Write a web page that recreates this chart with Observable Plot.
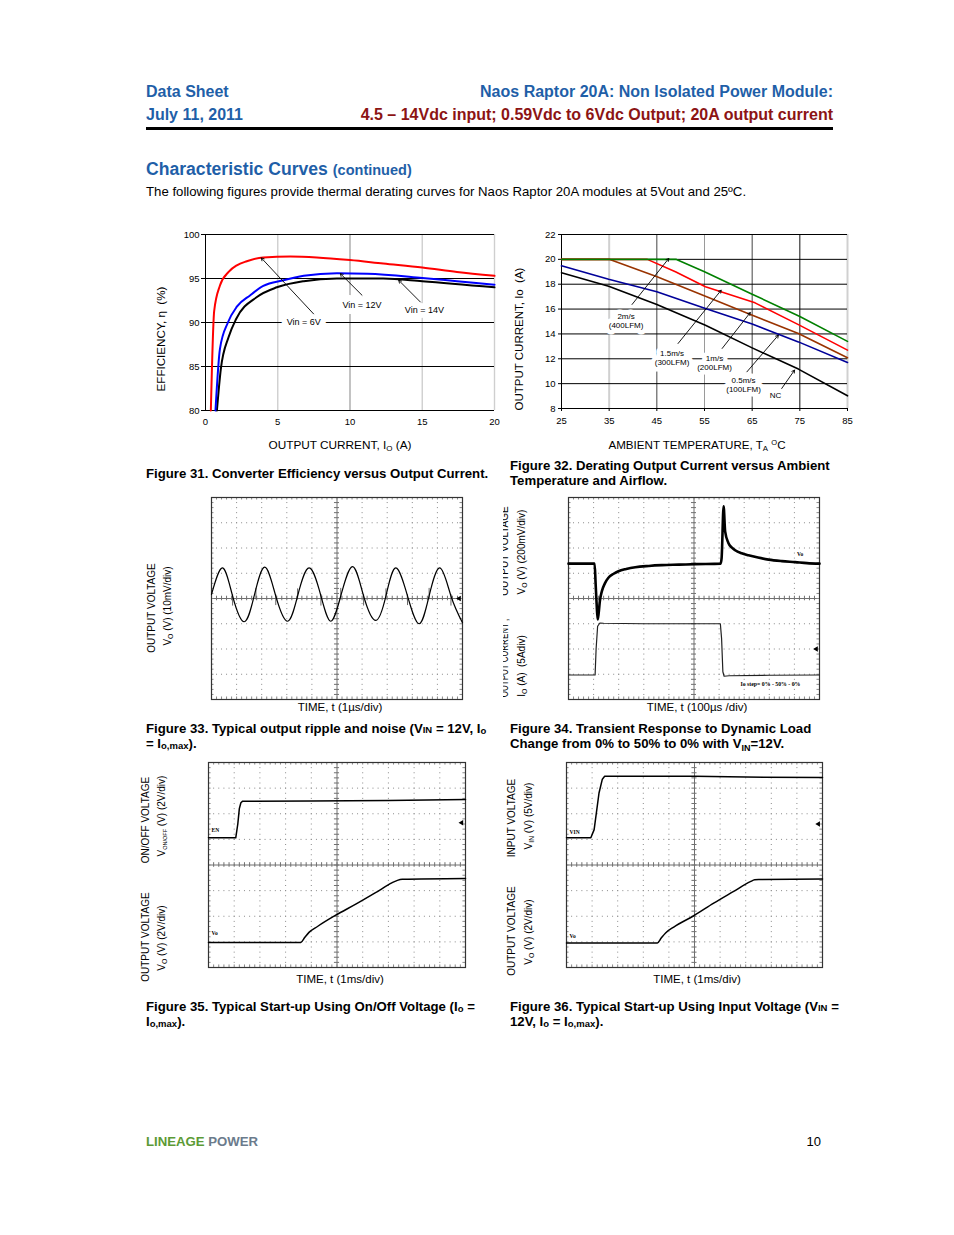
<!DOCTYPE html>
<html><head><meta charset="utf-8">
<script src="https://cdn.jsdelivr.net/npm/d3@7"></script>
<script src="https://cdn.jsdelivr.net/npm/@observablehq/plot@0.6"></script>
<style>
body{margin:0;background:#fff;}
#page{position:relative;width:954px;height:1235px;font-family:"Liberation Sans",Arial,sans-serif;color:#000;overflow:hidden;background:#fff}
.abs{position:absolute;white-space:nowrap;line-height:1.2}
.rot{position:absolute;white-space:nowrap;line-height:1.2;transform:translate(-50%,-50%) rotate(-90deg)}
sub{font-size:0.68em;vertical-align:-0.3em;line-height:0}
sup{font-size:0.65em;vertical-align:0.55em;line-height:0}
.sc{font-size:0.72em}
.sm{font-size:0.72em;vertical-align:-0.1em}
.clip{position:absolute;overflow:hidden}
svg{display:block}
</style></head>
<body><div id="page"></div>
<script>
// ---------- Figure 31 data: efficiency vs output current ----------
const effXTicks = [0, 5, 10, 15, 20];
const effYTicks = [80, 85, 90, 95, 100];
const effCurrentVin6 = [0.37, 0.6, 1.0, 1.6, 2.17, 2.86, 4.0, 5.87, 7.7, 10.0, 12.3, 15.0, 17.4, 20.0];
const effVin6 = [80, 91.3, 94.2, 95.75, 96.5, 96.96, 97.4, 97.5, 97.4, 97.1, 96.7, 96.25, 95.75, 95.3];
const effCurrentVin12 = [0.69, 1.0, 1.55, 2.17, 3.1, 4.0, 5.4, 6.8, 9.1, 11.2, 15.0, 17.4, 20.0];
const effVin12 = [80, 87.0, 90.0, 91.8, 93.1, 94.15, 94.8, 95.3, 95.6, 95.55, 95.07, 94.7, 94.3];
const effCurrentVin14 = [0.79, 1.06, 1.6, 2.12, 3.56, 4.94, 6.8, 9.1, 12.3, 15.0, 20.0];
const effVin14 = [80, 84.7, 88.35, 90.4, 92.9, 94.0, 94.7, 95.0, 95.0, 94.7, 94.0];
const effLabels = ["Vin = 6V", "Vin = 12V", "Vin = 14V"];
const effLabelX = [6.8, 10.83, 15.15];
const effLabelY = [90.0, 91.95, 91.4];
const effArrowFromX = [7.48, 10.83, 14.87];
const effArrowFromY = [90.98, 93.1, 92.33];
const effArrowToX = [3.86, 9.33, 13.37];
const effArrowToY = [97.34, 95.56, 94.8];

// ---------- Figure 32 data: derating ----------
const tempTicks = [25, 35, 45, 55, 65, 75, 85];
const ioTicks = [8, 10, 12, 14, 16, 18, 20, 22];
const temp2ms = [25, 49, 55, 65, 75, 85];
const io2ms = [20, 20, 19.0, 17.2, 15.4, 13.4];
const temp15ms = [25, 43, 48.9, 55.2, 65.6, 74.7, 85];
const io15ms = [20, 20, 19.0, 17.8, 16.5, 14.75, 12.7];
const temp1ms = [25, 35, 45.05, 55.2, 63.6, 74.7, 85];
const io1ms = [20, 20, 18.6, 17.04, 15.72, 14.04, 12.08];
const temp05ms = [25, 34.9, 45, 55.2, 65, 74.7, 85];
const io05ms = [19.48, 18.4, 17.4, 16.05, 14.79, 13.36, 11.7];
const tempNC = [25, 34.9, 45, 55.2, 65, 74.7, 85];
const ioNC = [18.92, 17.84, 16.37, 14.7, 12.88, 11.17, 9.02];
const dLabels = ["2m/s\n(400LFM)", "1.5m/s\n(300LFM)", "1m/s\n(200LFM)", "0.5m/s\n(100LFM)", "NC"];
const dLabelX = [38.55, 48.2, 57.1, 63.2, 69.9];
const dLabelY = [15.1, 12.1, 11.7, 9.9, 9.07];
const dArrowFromX = [39.8, 49.45, 58.7, 63.9, 71.2];
const dArrowFromY = [16.37, 13.23, 12.83, 10.95, 9.61];
const dArrowToX = [47.5, 58.5, 64.6, 70.5, 73.9];
const dArrowToY = [20.07, 17.52, 15.72, 13.9, 11.09];

// ---------- Scope grid (divisions) ----------
const scopeDivX = [1, 2, 3, 4, 6, 7, 8, 9];
const scopeDivY = [-3, -2, -1, 1, 2, 3];

// ---------- Figure 33: output ripple (divisions) ----------
const rippleT = [0, 0.44, 0.84, 1.30, 1.70, 2.12, 2.56, 3.03, 3.43, 3.89, 4.36, 4.75, 5.15, 5.62, 6.06, 6.55, 6.95, 7.34, 7.81, 8.27, 8.67, 9.10, 9.54, 10];
const rippleV = [0.16, 1.21, 0.1, -0.92, 0.1, 1.24, 0.1, -0.9, 0.1, 1.21, 0.1, -0.9, 0.1, 1.26, 0.1, -0.87, 0.1, 1.21, 0.1, -1.0, 0.1, 1.21, 0.1, -0.96];
const spikeT = [0.84, 1.77, 2.56, 3.43, 4.36, 5.15, 6.06, 6.95, 7.81, 8.67, 9.54];
const spikeLo = [-0.3, -0.05, -0.28, -0.05, -0.3, -0.05, -0.3, -0.05, -0.28, -0.05, -0.3];
const spikeHi = [0.15, 0.4, 0.15, 0.38, 0.15, 0.4, 0.15, 0.38, 0.15, 0.4, 0.15];

// ---------- Figure 34: transient response ----------
const voStepT = [0, 1.04, 1.08, 1.12, 1.16, 1.2, 1.25, 1.33, 1.45, 1.59, 1.8, 1.99, 2.3, 2.66, 3.2, 3.72, 4.4, 5.05, 6.06, 6.1, 6.18, 6.24, 6.37, 6.5, 6.64, 6.9, 7.17, 7.55, 7.97, 8.5, 9.03, 9.5, 10];
const voStepV = [1.38, 1.38, 0.6, -0.2, -0.83, -0.6, -0.1, 0.29, 0.6, 0.82, 0.98, 1.08, 1.17, 1.24, 1.29, 1.32, 1.34, 1.36, 1.38, 1.6, 3.65, 2.66, 2.2, 2.02, 1.91, 1.79, 1.71, 1.62, 1.54, 1.48, 1.44, 1.4, 1.38];
const ioStepT = [0, 1.06, 1.1, 1.16, 1.25, 1.4, 3, 6.05, 6.1, 6.15, 6.2, 6.4, 8, 10];
const ioStepV = [-3.03, -3.03, -2.0, -1.1, -0.97, -0.98, -1.0, -1.0, -1.6, -2.9, -3.08, -3.06, -3.04, -3.03];

// ---------- Figure 35: start-up via on/off ----------
const enT = [0, 1.06, 1.14, 1.2, 1.26, 1.33, 4, 7, 10];
const enV = [1.06, 1.06, 1.6, 2.2, 2.43, 2.49, 2.5, 2.52, 2.56];
const vo35T = [0, 3.59, 3.75, 3.91, 4.24, 4.95, 5.73, 6.5, 7.15, 7.35, 7.54, 10];
const vo35V = [-3.02, -3.02, -2.82, -2.63, -2.4, -1.96, -1.53, -1.08, -0.69, -0.6, -0.56, -0.53];

// ---------- Figure 36: start-up via input voltage ----------
const vinT = [0, 0.95, 1.08, 1.27, 1.4, 1.49, 5, 7, 10];
const vinV = [1.06, 1.06, 1.38, 2.81, 3.35, 3.46, 3.46, 3.43, 3.41];
const vo36T = [0, 3.55, 3.7, 3.87, 4.19, 4.97, 5.75, 6.53, 7.18, 7.35, 7.51, 10];
const vo36V = [-3.04, -3.04, -2.85, -2.65, -2.42, -1.98, -1.49, -1.03, -0.65, -0.58, -0.57, -0.55];

// ================= helpers =================
const FONT = '"Liberation Sans", Arial, sans-serif';
const page = document.getElementById("page");
const pts = (xs, ys) => xs.map((x, i) => ({x, y: ys[i]}));
function put(html, x, y, {align = "left", size = 12, weight = "normal", color = "#000", parent = page} = {}) {
  const d = document.createElement("div");
  d.className = "abs"; d.innerHTML = html;
  d.style.left = x + "px"; d.style.top = y + "px";
  d.style.fontSize = size + "px"; d.style.fontWeight = weight; d.style.color = color;
  const tx = align === "left" ? "0" : align === "right" ? "-100%" : "-50%";
  d.style.transform = `translate(${tx},-50%)`;
  parent.appendChild(d);
  return d;
}
function rot(html, x, y, size = 10, parent = page, squeeze = 1) {
  const d = document.createElement("div");
  d.className = "rot"; d.innerHTML = html;
  d.style.left = x + "px"; d.style.top = y + "px"; d.style.fontSize = size + "px";
  if (squeeze !== 1) d.style.transform = `translate(-50%,-50%) rotate(-90deg) scaleX(${squeeze})`;
  parent.appendChild(d);
  return d;
}
function mount(svg, left, top) {
  const d = document.createElement("div");
  d.style.position = "absolute"; d.style.left = left + "px"; d.style.top = top + "px";
  d.appendChild(svg); page.appendChild(d);
}

// ================= header =================
const BLUE = "#1f5fa8", RED = "#8c1414";
put("Data Sheet", 146, 92, {size: 16, weight: "bold", color: BLUE});
put("July 11, 2011", 146, 115, {size: 16, weight: "bold", color: BLUE});
put("Naos Raptor 20A: Non Isolated Power Module:", 833, 92, {align: "right", size: 16, weight: "bold", color: BLUE});
put("4.5 – 14Vdc input; 0.59Vdc to 6Vdc Output; 20A output current", 833, 115, {align: "right", size: 16, weight: "bold", color: RED});
const hr = document.createElement("div");
Object.assign(hr.style, {position: "absolute", left: "146px", top: "127px", width: "687px", height: "3px", background: "#000"});
page.appendChild(hr);
put('Characteristic Curves <span style="font-size:14.5px">(continued)</span>', 146, 170, {size: 17.6, weight: "bold", color: BLUE});
put("The following figures provide thermal derating curves for Naos Raptor 20A modules at 5Vout and 25ºC.", 146, 192, {size: 13.2});

// ================= Figure 31 =================
const fig31 = Plot.plot({
  width: 350, height: 205, marginLeft: 55, marginRight: 6, marginTop: 9, marginBottom: 20,
  x: {domain: [0, 20], label: null}, y: {domain: [80, 100], label: null},
  style: {fontFamily: FONT, fontSize: "9.5px", background: "transparent", overflow: "visible"},
  marks: [
    Plot.ruleX([5, 15, 20], {stroke: "#cfcfcf", strokeWidth: 1.4}),
    Plot.ruleX([10], {stroke: "#9a9a9a", strokeWidth: 1.2}),
    Plot.ruleY([85, 90, 95, 100], {stroke: "#000", strokeWidth: 1}),
    Plot.ruleX([0], {stroke: "#000"}),
    Plot.ruleY([80], {stroke: "#000"}),
    Plot.axisY({ticks: effYTicks, tickSize: 4, tickPadding: 2, label: null}),
    Plot.axisX({ticks: effXTicks, tickSize: 0, tickPadding: 8, label: null}),
    Plot.line(pts(effCurrentVin14, effVin14), {x: "x", y: "y", stroke: "#000", strokeWidth: 2, curve: "monotone-x"}),
    Plot.line(pts(effCurrentVin12, effVin12), {x: "x", y: "y", stroke: "#0000ff", strokeWidth: 2, curve: "monotone-x"}),
    Plot.line(pts(effCurrentVin6, effVin6), {x: "x", y: "y", stroke: "#ff0000", strokeWidth: 2, curve: "monotone-x"}),
    Plot.text(effLabels, {x: (d, i) => effLabelX[i], y: (d, i) => effLabelY[i], text: d => d, fill: "white", stroke: "white", strokeWidth: 12, fontSize: 9}),
    Plot.arrow(effLabels, {x1: (d, i) => effArrowFromX[i], y1: (d, i) => effArrowFromY[i], x2: (d, i) => effArrowToX[i], y2: (d, i) => effArrowToY[i], stroke: "#000", strokeWidth: 0.9, headLength: 5}),
    Plot.text(effLabels, {x: (d, i) => effLabelX[i], y: (d, i) => effLabelY[i], text: d => d, fill: "#000", fontSize: 9})
  ]
});
mount(fig31, 150, 225);
rot("EFFICIENCY, η&nbsp; (%)", 161, 339, 11.6);
put("OUTPUT CURRENT, I<sub>O</sub> (A)", 340, 445, {align: "center", size: 11.8});
put("Figure 31. Converter Efficiency versus Output Current.", 146, 474, {size: 13.2, weight: "bold"});

// ================= Figure 32 =================
const fig32 = Plot.plot({
  width: 350, height: 205, marginLeft: 56, marginRight: 8, marginTop: 9, marginBottom: 22,
  x: {domain: [25, 85], label: null}, y: {domain: [8, 22], label: null},
  style: {fontFamily: FONT, fontSize: "9.5px", background: "transparent", overflow: "visible"},
  marks: [
    Plot.ruleX([35, 85], {stroke: "#d0d0d0", strokeWidth: 2}),
    Plot.ruleX([55], {stroke: "#9a9a9a", strokeWidth: 1}),
    Plot.ruleX([45, 65], {stroke: "#444", strokeWidth: 1}),
    Plot.ruleX([75], {stroke: "#111", strokeWidth: 1}),
    Plot.ruleY([10, 12, 14, 16, 18, 20, 22], {stroke: "#000", strokeWidth: 1}),
    Plot.ruleX([25], {stroke: "#000"}),
    Plot.ruleY([8], {stroke: "#000"}),
    Plot.axisY({ticks: ioTicks, tickSize: 3, tickPadding: 3, label: null}),
    Plot.axisX({ticks: tempTicks, tickSize: 3, tickPadding: 6, label: null}),
    Plot.text(dLabels, {x: (d, i) => dLabelX[i], y: (d, i) => dLabelY[i], text: d => d, fill: "white", stroke: "white", strokeWidth: 9, fontSize: 8, lineHeight: 1.15}),
    Plot.line(pts(tempNC, ioNC), {x: "x", y: "y", stroke: "#000", strokeWidth: 1.6}),
    Plot.line(pts(temp05ms, io05ms), {x: "x", y: "y", stroke: "#000099", strokeWidth: 1.6}),
    Plot.line(pts(temp1ms, io1ms), {x: "x", y: "y", stroke: "#993300", strokeWidth: 1.6}),
    Plot.line(pts(temp15ms, io15ms), {x: "x", y: "y", stroke: "#ff0000", strokeWidth: 1.6}),
    Plot.line(pts(temp2ms, io2ms), {x: "x", y: "y", stroke: "#008000", strokeWidth: 1.6}),
    Plot.arrow(dLabels, {x1: (d, i) => dArrowFromX[i], y1: (d, i) => dArrowFromY[i], x2: (d, i) => dArrowToX[i], y2: (d, i) => dArrowToY[i], stroke: "#000", strokeWidth: 0.9, headLength: 5}),
    Plot.text(dLabels, {x: (d, i) => dLabelX[i], y: (d, i) => dLabelY[i], text: d => d, fill: "#000", fontSize: 8, lineHeight: 1.15})
  ]
});
mount(fig32, 505, 225);
rot("OUTPUT CURRENT, Io&nbsp; (A)", 520, 339, 11.5);
put("AMBIENT TEMPERATURE, T<sub>A</sub> <sup>O</sup>C", 697, 445, {align: "center", size: 11.6});
put("Figure 32. Derating Output Current versus Ambient", 510, 466, {size: 13.2, weight: "bold"});
put("Temperature and Airflow.", 510, 481, {size: 13.2, weight: "bold"});

// ================= scope helper =================
const minorX = d3.range(51).map(i => i / 5);
const minorY = d3.range(41).map(i => i / 5 - 4);
function scope(w, h, traces) {
  const pad = 1;
  const px = w / 50, py = h / 40;
  const G = "#8a8a8a";
  return Plot.plot({
    width: w + 2 * pad, height: h + 2 * pad, margin: pad,
    x: {domain: [0, 10], axis: null}, y: {domain: [-4, 4], axis: null},
    style: {fontFamily: FONT, background: "transparent", overflow: "visible"},
    marks: [
      Plot.ruleX(scopeDivX, {stroke: G, strokeDasharray: `1 ${py - 1}`}),
      Plot.ruleY(scopeDivY, {stroke: G, strokeDasharray: `1 ${px - 1}`}),
      Plot.ruleX([5], {stroke: "#707070"}),
      Plot.ruleY([0], {stroke: "#707070"}),
      Plot.ruleX(minorX, {x: d => d, y1: -0.09, y2: 0.09, stroke: "#707070"}),
      Plot.ruleY(minorY, {y: d => d, x1: 4.9, x2: 5.1, stroke: "#707070"}),
      Plot.ruleX(minorX, {x: d => d, y1: -4, y2: -3.9, stroke: G}),
      Plot.ruleX(minorX, {x: d => d, y1: 3.9, y2: 4, stroke: G}),
      Plot.ruleY(minorY, {y: d => d, x1: 0, x2: 0.1, stroke: G}),
      Plot.ruleY(minorY, {y: d => d, x1: 9.9, x2: 10, stroke: G}),
      Plot.frame({stroke: "#333", strokeWidth: 1.2}),
      ...traces
    ]
  });
}
const tinyLabel = {fill: "#000", fontSize: 5.5, fontWeight: "bold", fontFamily: '"Liberation Serif", serif', textAnchor: "start"};
const ground = (x, y) => Plot.dot([{x, y}], {x: "x", y: "y", symbol: "triangle", r: 2, rotate: -90, fill: "#000", stroke: "none"});

// ================= Figure 33 =================
const fig33 = scope(251, 202, [
  Plot.ruleX(spikeT, {x: d => d, y1: (d, i) => spikeLo[i], y2: (d, i) => spikeHi[i], stroke: "#555", strokeWidth: 0.9}),
  Plot.line(pts(rippleT, rippleV), {x: "x", y: "y", stroke: "#000", strokeWidth: 1.2, curve: "natural"}),
  ground(9.87, 0)
]);
mount(fig33, 210, 496);
rot("OUTPUT VOLTAGE", 152, 608, 10);
rot("V<sub>O</sub> (V) (10mV/div)", 168, 606, 10);
put("TIME, t (1µs/div)", 340, 708, {align: "center", size: 11.5});
put('Figure 33. Typical output ripple and noise (V<span class="sc">IN</span> = 12V, I<span class="sm">o</span>', 146, 729, {size: 13.2, weight: "bold"});
put('= I<span class="sm">o,max</span>).', 146, 744, {size: 13.2, weight: "bold"});

// ================= Figure 34 =================
const fig34 = scope(251, 202, [
  Plot.line(pts(ioStepT, ioStepV), {x: "x", y: "y", stroke: "#222", strokeWidth: 1.2}),
  Plot.line(pts(voStepT, voStepV), {x: "x", y: "y", stroke: "#000", strokeWidth: 2.6, curve: "monotone-x"}),
  Plot.text(["Vo"], {x: 9.1, y: 1.74, text: d => d, ...tinyLabel}),
  Plot.text(["Io step= 0% - 50% - 0%"], {x: 6.85, y: -3.4, text: d => d, ...tinyLabel, fontSize: 5.8}),
  ground(9.87, -2.0)
]);
mount(fig34, 567, 496);
const clip34 = document.createElement("div");
clip34.className = "clip";
Object.assign(clip34.style, {left: "503px", top: "500px", width: "40px", height: "199px"});
page.appendChild(clip34);
rot("OUTPUT VOLTAGE", 505 - 503, 551 - 500, 10, clip34);
rot("V<sub>O</sub> (V) (200mV/div)", 522 - 503, 552 - 500, 10, clip34);
rot("OUTPUT CURRENT ,", 505 - 503, 658 - 500, 10, clip34, 0.8);
rot("I<sub>O</sub> (A)&nbsp; (5Adiv)", 522 - 503, 666 - 500, 10, clip34);
put("TIME, t (100µs /div)", 697, 708, {align: "center", size: 11.5});
put("Figure 34. Transient Response to Dynamic Load", 510, 729, {size: 13.2, weight: "bold"});
put("Change from 0% to 50% to 0% with V<sub>IN</sub>=12V.", 510, 744, {size: 13.2, weight: "bold"});

// ================= Figure 35 =================
const fig35 = scope(257, 205, [
  Plot.line(pts(enT, enV), {x: "x", y: "y", stroke: "#000", strokeWidth: 1.5}),
  Plot.line(pts(vo35T, vo35V), {x: "x", y: "y", stroke: "#000", strokeWidth: 1.5, curve: "monotone-x"}),
  Plot.text(["EN"], {x: 0.12, y: 1.36, text: d => d, ...tinyLabel}),
  Plot.text(["Vo"], {x: 0.12, y: -2.66, text: d => d, ...tinyLabel}),
  ground(9.85, 1.65)
]);
mount(fig35, 207, 761);
rot("ON/OFF VOLTAGE", 146, 820, 10);
rot('V<sub style="font-size:0.55em">ON/OFF</sub> (V) (2V/div)', 162, 816, 10);
rot("OUTPUT VOLTAGE", 146, 937, 10);
rot("V<sub>O</sub> (V) (2V/div)", 162, 938, 10);
put("TIME, t (1ms/div)", 340, 980, {align: "center", size: 11.5});
put('Figure 35. Typical Start-up Using On/Off Voltage (I<span class="sm">o</span> =', 146, 1007, {size: 13.2, weight: "bold"});
put('I<span class="sm">o,max</span>).', 146, 1022, {size: 13.2, weight: "bold"});

// ================= Figure 36 =================
const fig36 = scope(256, 205, [
  Plot.line(pts(vinT, vinV), {x: "x", y: "y", stroke: "#000", strokeWidth: 1.5}),
  Plot.line(pts(vo36T, vo36V), {x: "x", y: "y", stroke: "#000", strokeWidth: 1.5, curve: "monotone-x"}),
  Plot.text(["VIN"], {x: 0.12, y: 1.28, text: d => d, ...tinyLabel}),
  Plot.text(["Vo"], {x: 0.12, y: -2.78, text: d => d, ...tinyLabel}),
  ground(9.84, 1.6)
]);
mount(fig36, 565, 761);
rot("INPUT VOLTAGE", 512, 818, 10);
rot("V<sub>IN</sub> (V) (5V/div)", 529, 816, 10);
rot("OUTPUT VOLTAGE", 512, 931, 10);
rot("V<sub>O</sub> (V) (2V/div)", 529, 932, 10);
put("TIME, t (1ms/div)", 697, 980, {align: "center", size: 11.5});
put('Figure 36. Typical Start-up Using Input Voltage (V<span class="sc">IN</span> =', 510, 1007, {size: 13.2, weight: "bold"});
put('12V, I<span class="sm">o</span> = I<span class="sm">o,max</span>).', 510, 1022, {size: 13.2, weight: "bold"});

// ================= footer =================
put('<span style="color:#5c9a35">LINEAGE</span> <span style="color:#6b7b8c">POWER</span>', 146, 1142, {size: 13.2, weight: "bold"});
put("10", 821, 1142, {align: "right", size: 13});
</script>
</body></html>
